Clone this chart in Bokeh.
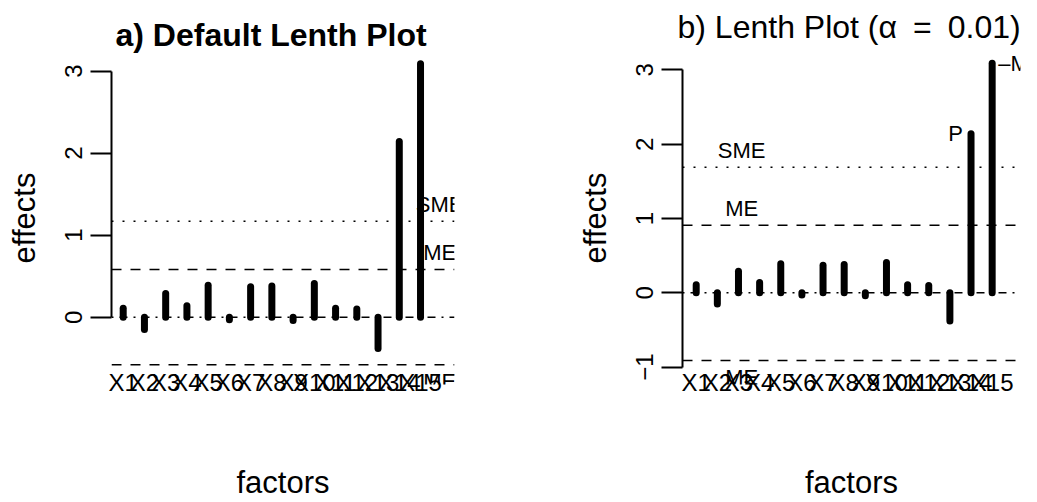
from bokeh.plotting import figure
from bokeh.layouts import row
from bokeh.models import Span, FixedTicker, Label, Range1d, ColumnDataSource
from bokeh.embed import file_html
from bokeh.resources import INLINE
from bokeh.core.properties import value

# ---- data ----
factors = ["X1", "X2", "X3", "X4", "X5", "X6", "X7", "X8", "X9", "X10",
           "X11", "X12", "X13", "X14", "X15"]
effects = [0.11, -0.15, 0.29, 0.14, 0.39, -0.03, 0.37, 0.38, -0.04, 0.41,
           0.11, 0.10, -0.38, 2.14, 3.09]
me_a, sme_a = 0.58, 1.17
me_b, sme_b = 0.91, 1.69
yticks_a = [0, 1, 2, 3]
yticks_b = [-1, 0, 1, 2, 3]
title_a = "a) Default Lenth Plot"
title_b = "b) Lenth Plot (\u03b1\u2002=\u20020.01)"
sig_labels_b = {"P": 14, "\u2013M": 15}

FONT = "Liberation Sans"
BLACK = "black"
idx = list(range(1, len(effects) + 1))
src = ColumnDataSource(dict(x=idx, y=effects, zero=[0] * len(idx)))


def make_panel(title, xr, yr, yticks, me, sme, lab_x, width, bl, br, bold, toff):
    p = figure(width=width, height=502, x_range=Range1d(*xr), y_range=Range1d(*yr),
               output_backend="svg", toolbar_location=None,
               min_border_left=bl, min_border_right=br,
               min_border_top=51, min_border_bottom=113)
    p.outline_line_color = None
    p.grid.visible = False
    p.background_fill_color = "white"
    p.border_fill_color = "white"

    p.title.text = title
    p.title.align = "left"
    p.title.offset = toff
    p.title.text_font = FONT
    p.title.text_color = BLACK
    p.title.text_font_size = "32px"
    p.title.text_font_style = "bold" if bold else "normal"
    p.title.standoff = -2 if bold else 13

    # y axis
    ya = p.yaxis[0]
    ya.ticker = FixedTicker(ticks=yticks)
    ya.bounds = (min(yticks), max(yticks))
    ya.major_label_overrides = {t: ("\u2212" + str(-t) if t < 0 else str(t)) for t in yticks}
    ya.major_tick_out = 21
    ya.major_tick_in = 0
    ya.minor_tick_line_color = None
    ya.axis_line_width = 2
    ya.axis_line_color = BLACK
    ya.major_tick_line_width = 2
    ya.major_tick_line_color = BLACK
    ya.major_label_orientation = "vertical"
    ya.major_label_text_font = FONT
    ya.major_label_text_color = BLACK
    ya.major_label_text_font_size = "24px"
    ya.major_label_standoff = 8
    ya.axis_label = "effects"
    ya.axis_label_text_font = FONT
    ya.axis_label_text_color = BLACK
    ya.axis_label_text_font_size = "31px"
    ya.axis_label_text_font_style = "normal"
    ya.axis_label_standoff = 21

    # x axis: factor names without ticks
    xa = p.xaxis[0]
    xa.ticker = FixedTicker(ticks=idx)
    xa.major_label_overrides = {i: f for i, f in zip(idx, factors)}
    xa.axis_line_color = None
    xa.major_tick_line_color = None
    xa.minor_tick_line_color = None
    xa.major_tick_out = 0
    xa.major_tick_in = 0
    xa.major_label_text_font = FONT
    xa.major_label_text_color = BLACK
    xa.major_label_text_font_size = "24px"
    xa.major_label_standoff = -16
    xa.axis_label = "factors"
    xa.axis_label_text_font = FONT
    xa.axis_label_text_color = BLACK
    xa.axis_label_text_font_size = "31px"
    xa.axis_label_text_font_style = "normal"
    xa.axis_label_standoff = 66

    # reference lines
    p.add_layout(Span(location=0, dimension="width", line_color=BLACK,
                      line_width=1.5, line_dash="2 6 8 6"))
    for v in (-me, me):
        p.add_layout(Span(location=v, dimension="width", line_color=BLACK,
                          line_width=1.5, line_dash="10 9"))
    for v in (-sme, sme):
        p.add_layout(Span(location=v, dimension="width", line_color=BLACK,
                          line_width=1.5, line_dash="2 9"))

    # effect bars
    p.segment(x0="x", y0="zero", x1="x", y1="y", source=src, line_color=BLACK,
              line_width=7, line_cap="round")

    # limit labels
    p.text(x=[lab_x, lab_x], y=[sme, me], text=["SME", "ME"],
           text_font=value(FONT), text_font_size="22px", text_align="center",
           text_baseline="middle", y_offset=-17, text_color=BLACK)
    p.text(x=[lab_x], y=[-me], text=["ME"],
           text_font=value(FONT), text_font_size="22px", text_align="center",
           text_baseline="middle", y_offset=17, text_color=BLACK)
    return p


pa = make_panel(title_a, (0.449, 16.6), (-0.82, 3.238), yticks_a, me_a, sme_a,
                15.9, 568, 111, 114, True, 4)
pb = make_panel(title_b, (0.352, 16.34), (-1.233, 3.247), yticks_b, me_b, sme_b,
                3.15, 469, 114, 17, False, -5)

for txt, i in sig_labels_b.items():
    if i == 14:
        pb.add_layout(Label(x=i, y=effects[i - 1], text=txt, x_offset=-8,
                            text_align="right", text_baseline="middle",
                            text_font=FONT, text_font_size="22px", text_color=BLACK))
    else:
        pb.add_layout(Label(x=i, y=effects[i - 1], text=txt, x_offset=6,
                            text_align="left", text_baseline="middle",
                            text_font=FONT, text_font_size="22px", text_color=BLACK))

layout = row(pa, pb)
open("out.html", "w").write(file_html(layout, INLINE))
